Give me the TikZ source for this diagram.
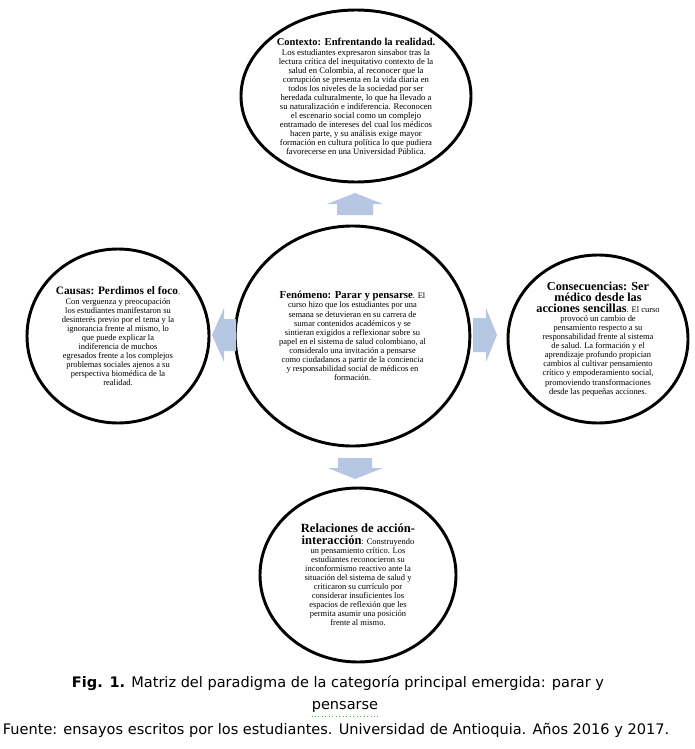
\documentclass[tikz,border=0pt]{standalone}
\usepackage{fontspec}
\setmainfont{Liberation Serif}
\newfontfamily\capfont{DejaVu Sans}
\usetikzlibrary{shapes.geometric}
\definecolor{arrowblue}{RGB}{182,199,228}
\definecolor{spellgreen}{RGB}{80,170,80}
\newcommand\ttlsz[1]{\fontsize{#1}{#1}\selectfont\bfseries}
\begin{document}
\begin{tikzpicture}[x=0.75pt,y=-0.75pt,
  bub/.style={ellipse, draw=black, line width=2.2pt, fill=white, align=center,
    inner sep=0pt, font=\fontsize{6.35}{6.8}\selectfont},
  blockarrow/.style={fill=arrowblue, draw=none},
  captext/.style={font=\capfont\fontsize{10.9}{12}\selectfont, inner sep=0pt, anchor=center}]
\useasboundingbox (0,0) rectangle (694,749);
\fill[white] (0,0) rectangle (694,749);

% top
\node[bub, font=\fontsize{6.5}{6.75}\selectfont, minimum width=172.5pt, minimum height=129pt] (ctx) at (356,96)
{{\ttlsz{7.9}Contexto: Enfrentando la realidad.}\\[0.6pt]
Los estudiantes expresaron sinsabor tras la\\
lectura crítica del inequitativo contexto de la\\
salud en Colombia, al reconocer que la\\
corrupción se presenta en la vida diaria en\\
todos los niveles de la sociedad por ser\\
heredada culturalmente, lo que ha llevado a\\
su naturalización e indiferencia. Reconocen\\
el escenario social como un complejo\\
entramado de intereses del cual los médicos\\
hacen parte, y su análisis exige mayor\\
formación en cultura política lo que pudiera\\
favorecerse en una Universidad Pública.};

% center
\node[bub, minimum width=176pt, minimum height=165pt] (fen) at (352.5,336)
{{\ttlsz{8.1}Fenómeno: Parar y pensarse}. El\\
curso hizo que los estudiantes por una\\
semana se detuvieran en su carrera de\\
sumar contenidos académicos y se\\
sintieran exigidos a reflexionar sobre su\\
papel en el sistema de salud colombiano, al\\
consideralo una invitación a pensarse\\
como ciudadanos a partir de la conciencia\\
y responsabilidad social de médicos en\\
formación.};

% left
\node[bub, minimum width=136.5pt, minimum height=130.5pt] (cau) at (118,336)
{{\ttlsz{8.5}Causas: Perdimos el foco}.\\[0.5pt]
Con verguenza y preocupación\\
los estudiantes manifestaron su\\
desinterés previo por el tema y la\\
ignorancia frente al mismo, lo\\
que puede explicar la\\
indiferencia de muchos\\
egresados frente a los complejos\\
problemas sociales ajenos a su\\
perspectiva biomédica de la\\
realidad.};

% right
\node[bub, font=\fontsize{6.35}{6.8}\selectfont, minimum width=135pt, minimum height=126pt] (con) at (598,339)
{{\ttlsz{9.2}Consecuencias: Ser}\\[1.4pt]
{\ttlsz{9.2}médico desde las}\\[1.4pt]
{\ttlsz{9.2}acciones sencillas}. El curso\\
provocó un cambio de\\
pensamiento respecto a su\\
responsabilidad frente al sistema\\
de salud. La formación y el\\
aprendizaje profundo propician\\
cambios al cultivar pensamiento\\
crítico y empoderamiento social,\\
promoviendo transformaciones\\
desde las pequeñas acciones.};

% bottom
\node[bub, minimum width=147pt, minimum height=130.5pt] (rel) at (358,575)
{{\ttlsz{9.4}Relaciones de acción-}\\[1.8pt]
{\ttlsz{9.4}interacción}: Construyendo\\
un pensamiento crítico. Los\\
estudiantes reconocieron su\\
inconformismo reactivo ante la\\
situación del sistema de salud y\\
criticaron su currículo por\\
considerar insuficientes los\\
espacios de reflexión que les\\
permita asumir una posición\\
frente al mismo.};

% block arrows
\fill[blockarrow] (337,215) -- (337,204) -- (327,204) -- (355,193) -- (383,204) -- (373,204) -- (373,215) -- cycle;
\fill[blockarrow] (338,458) -- (372,458) -- (372,468) -- (383,468) -- (355,479) -- (328,468) -- (338,468) -- cycle;
\fill[blockarrow] (236,319) -- (224,319) -- (224,308) -- (212,335) -- (224,362) -- (224,351) -- (236,351) -- cycle;
\fill[blockarrow] (473,318) -- (486,318) -- (486,308) -- (497,335) -- (486,362) -- (486,352) -- (473,352) -- cycle;

% caption
\node[captext] (cap1) at (338,683) {\textbf{Fig. 1.} Matriz del paradigma de la categoría principal emergida: parar y};
\node[captext] (cap2) at (345,707) {pensarse};
\draw[spellgreen, line width=0.6pt, dotted] ([yshift=-2.5pt]cap2.south west) -- ([yshift=-2.5pt]cap2.south east);
\node[captext] (cap3) at (336,730) {Fuente: ensayos escritos por los estudiantes. Universidad de Antioquia. Años 2016 y 2017.};
\end{tikzpicture}
\end{document}
